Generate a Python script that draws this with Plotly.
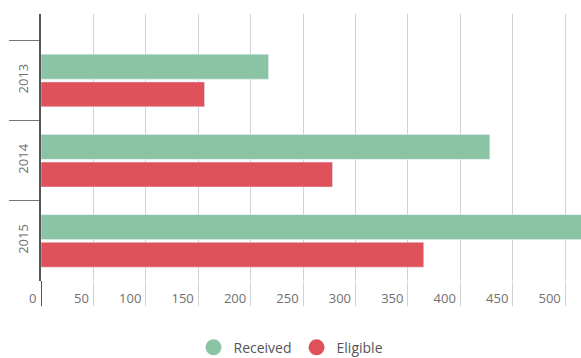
import plotly.graph_objects as go

years = ["2013", "2014", "2015"]
received = [217, 428, 520]
eligible = [156, 278, 365]
x_ticks = [0, 50, 100, 150, 200, 250, 300, 350, 400, 450, 500]

GREEN = "#8BC4A4"
RED = "#E0525B"

fig = go.Figure()
fig.add_trace(go.Bar(y=years, x=received, orientation="h", marker_color=GREEN,
                     name="Received", showlegend=False))
fig.add_trace(go.Bar(y=years, x=eligible, orientation="h", marker_color=RED,
                     name="Eligible", showlegend=False))
# legend entries with circular symbols
fig.add_trace(go.Scatter(x=[None], y=[None], mode="markers", name="Received",
                         marker=dict(symbol="circle", size=16, color=GREEN)))
fig.add_trace(go.Scatter(x=[None], y=[None], mode="markers", name="Eligible",
                         marker=dict(symbol="circle", size=16, color=RED)))

fig.update_layout(
    width=581, height=358,
    margin=dict(l=41, r=0, t=14, b=77, autoexpand=False),
    paper_bgcolor="white", plot_bgcolor="white",
    barmode="group", bargap=0.31, bargroupgap=0.1,
    font=dict(family="Open Sans, Roboto, sans-serif", size=13, color="#707070"),
    legend=dict(orientation="h", x=0.463, xanchor="center", y=-0.25, yanchor="middle",
                font=dict(size=14, color="#555"), itemwidth=30, tracegroupgap=0),
)
fig.update_xaxes(
    range=[0, 515], tickvals=x_ticks, ticktext=[str(v) for v in x_ticks],
    showgrid=True, gridcolor="#d2d2d2", gridwidth=1,
    ticks="outside", ticklen=24, tickcolor="#d2d2d2", tickwidth=1,
    ticklabelposition="outside left", ticklabelstandoff=5, ticklabelshift=-4,
    zeroline=False, showline=False, fixedrange=True, automargin=False,
)
fig.update_yaxes(
    categoryorder="array", categoryarray=years, autorange=False,
    range=[2.5, -0.83],
    tickangle=-90, ticks="outside", tickson="boundaries", ticklen=30,
    tickcolor="#777", tickwidth=1, ticklabelstandoff=6,
    showline=True, linecolor="#555", linewidth=2,
    showgrid=False, zeroline=False, automargin=False,
)
# dark extension of the axis line below the plot
fig.add_shape(type="line", xref="x", yref="paper", x0=0, x1=0, y0=0, y1=-0.095,
              line=dict(color="#555", width=2))

fig.write_html("out.html")
